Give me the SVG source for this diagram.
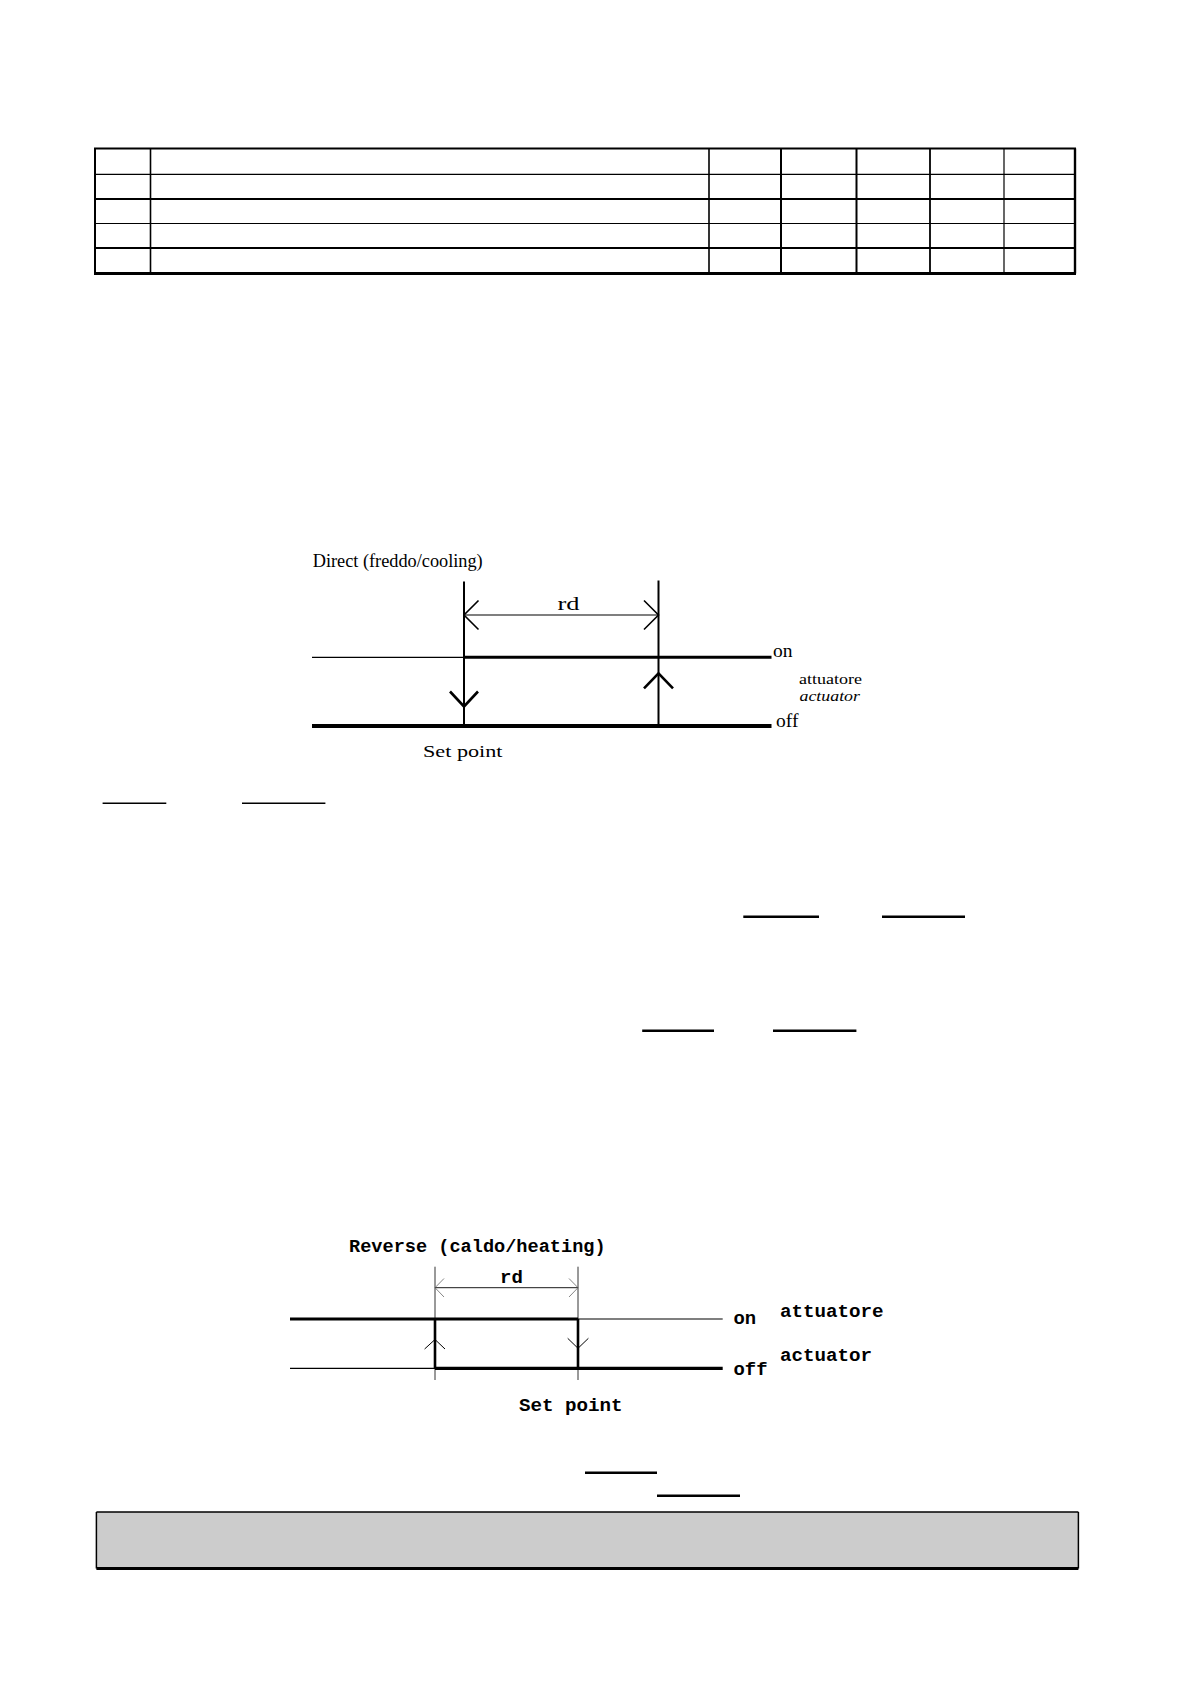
<svg xmlns="http://www.w3.org/2000/svg" width="1190" height="1684" viewBox="0 0 1190 1684">
<style>
.serif{font-family:"Liberation Serif","Times New Roman",serif;fill:#000}
.mono{font-family:"Liberation Mono","Courier New",monospace;font-weight:bold;fill:#000}
.ln{stroke:#000;fill:none}
</style>
<rect width="1190" height="1684" fill="#fff"/>
<g id="table" class="ln">
<line x1="94" y1="148.5" x2="1076" y2="148.5" stroke-width="2"/>
<line x1="94" y1="174.3" x2="1076" y2="174.3" stroke-width="1.2"/>
<line x1="94" y1="199" x2="1076" y2="199" stroke-width="2.2"/>
<line x1="94" y1="223.5" x2="1076" y2="223.5" stroke-width="1.2"/>
<line x1="94" y1="248" x2="1076" y2="248" stroke-width="2.2"/>
<line x1="94" y1="273.5" x2="1076" y2="273.5" stroke-width="2.8"/>
<line x1="95" y1="148.5" x2="95" y2="273.5" stroke-width="2"/>
<line x1="150.5" y1="148.5" x2="150.5" y2="273.5" stroke-width="1.6"/>
<line x1="709" y1="148.5" x2="709" y2="273.5" stroke-width="1.6"/>
<line x1="781" y1="148.5" x2="781" y2="273.5" stroke-width="2"/>
<line x1="856.5" y1="148.5" x2="856.5" y2="273.5" stroke-width="2"/>
<line x1="930" y1="148.5" x2="930" y2="273.5" stroke-width="1.8"/>
<line x1="1004" y1="148.5" x2="1004" y2="273.5" stroke-width="1.2"/>
<line x1="1075" y1="148.5" x2="1075" y2="273.5" stroke-width="2.4"/>
</g>
<g id="direct-diagram">
<text class="serif" x="312.7" y="567" font-size="18" textLength="170" lengthAdjust="spacingAndGlyphs">Direct (freddo/cooling)</text>
<g class="ln">
<line x1="464" y1="581.5" x2="464" y2="726" stroke-width="2"/>
<line x1="658.5" y1="580.5" x2="658.5" y2="726" stroke-width="2"/>
<line x1="464" y1="615" x2="658.5" y2="615" stroke-width="1.2"/>
<polyline points="478.5,600.5 464,615 478.5,629.5" stroke-width="1.6"/>
<polyline points="644,600.5 658.5,615 644,629.5" stroke-width="1.6"/>
<line x1="312" y1="657.3" x2="464" y2="657.3" stroke-width="1.2"/>
<line x1="464" y1="657.3" x2="771.5" y2="657.3" stroke-width="3"/>
<line x1="312" y1="726" x2="771.5" y2="726" stroke-width="3.8"/>
<polyline points="450,691.5 464,706.5 478,691.5" stroke-width="2.6"/>
<polyline points="644,688.3 658.5,673.3 673,688.3" stroke-width="2.6"/>
</g>
<text class="serif" x="557.5" y="610" font-size="18.5" textLength="22" lengthAdjust="spacingAndGlyphs">rd</text>
<text class="serif" x="773" y="657" font-size="19.5">on</text>
<text class="serif" x="776" y="726.5" font-size="19.5">off</text>
<text class="serif" x="799" y="683.8" font-size="15.5" textLength="63" lengthAdjust="spacingAndGlyphs">attuatore</text>
<text class="serif" x="799.5" y="701" font-size="15.5" font-style="italic" textLength="60.5" lengthAdjust="spacingAndGlyphs">actuator</text>
<text class="serif" x="423" y="756.5" font-size="17.5" textLength="79.5" lengthAdjust="spacingAndGlyphs">Set point</text>
</g>
<g id="underlines" class="ln">
<line x1="102.6" y1="803.3" x2="166.3" y2="803.3" stroke-width="1.5"/>
<line x1="242" y1="803.3" x2="325.4" y2="803.3" stroke-width="1.5"/>
<line x1="743.3" y1="916.7" x2="819" y2="916.7" stroke-width="2.5"/>
<line x1="882" y1="916.7" x2="965" y2="916.7" stroke-width="2.5"/>
<line x1="642.2" y1="1030.7" x2="714" y2="1030.7" stroke-width="2.5"/>
<line x1="773" y1="1030.7" x2="856.4" y2="1030.7" stroke-width="2.5"/>
<line x1="585" y1="1472.7" x2="657" y2="1472.7" stroke-width="2.5"/>
<line x1="657" y1="1495.7" x2="740" y2="1495.7" stroke-width="2.5"/>
</g>
<g id="reverse-diagram">
<text class="mono" x="349" y="1252.3" font-size="18.6">Reverse (caldo/heating)</text>
<g class="ln">
<line x1="435" y1="1266.7" x2="435" y2="1380" stroke-width="0.8"/>
<line x1="578" y1="1266.7" x2="578" y2="1380" stroke-width="0.8"/>
<line x1="435" y1="1287.7" x2="578" y2="1287.7" stroke-width="0.9"/>
<polyline points="444,1278.5 435,1287.7 444,1297" stroke="#777" stroke-width="0.9"/>
<polyline points="569,1278.5 578,1287.7 569,1297" stroke="#777" stroke-width="0.9"/>
<line x1="290" y1="1319" x2="435" y2="1319" stroke-width="3"/>
<line x1="435" y1="1319" x2="578" y2="1319" stroke-width="3"/>
<line x1="578" y1="1319" x2="722.7" y2="1319" stroke-width="1.2"/>
<line x1="290" y1="1368.3" x2="435" y2="1368.3" stroke-width="1.2"/>
<line x1="435" y1="1368.3" x2="722.7" y2="1368.3" stroke-width="3.2"/>
<line x1="435" y1="1319" x2="435" y2="1368.3" stroke-width="2.6"/>
<line x1="578" y1="1319" x2="578" y2="1368.3" stroke-width="2.6"/>
<polyline points="424.6,1349 435,1339.5 445,1349" stroke-width="1"/>
<polyline points="567.7,1338.3 578,1348.3 588.4,1338.3" stroke-width="1"/>
</g>
<text class="mono" x="500" y="1282.5" font-size="19">rd</text>
<text class="mono" x="733.5" y="1324.3" font-size="18.9">on</text>
<text class="mono" x="733.5" y="1375.3" font-size="18.9">off</text>
<text class="mono" x="780" y="1317" font-size="19.2">attuatore</text>
<text class="mono" x="780" y="1361" font-size="19.2">actuator</text>
<text class="mono" x="519" y="1411" font-size="19.2">Set point</text>
</g>
<g id="note-box">
<rect x="96.4" y="1512" width="982" height="56.5" fill="#cccccc" stroke="none"/>
<line x1="96.4" y1="1512" x2="1078.4" y2="1512" stroke="#000" stroke-width="1.5"/>
<line x1="96.4" y1="1568.5" x2="1078.4" y2="1568.5" stroke="#000" stroke-width="3"/>
<line x1="96.4" y1="1512" x2="96.4" y2="1568.5" stroke="#000" stroke-width="1.5"/>
<line x1="1078.4" y1="1512" x2="1078.4" y2="1568.5" stroke="#000" stroke-width="1.5"/>
</g>
</svg>
